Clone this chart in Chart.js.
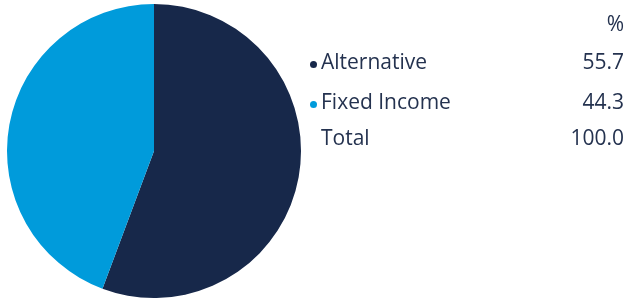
<!DOCTYPE html>
<html>
<head>
<meta charset="utf-8">
<script src="https://cdn.jsdelivr.net/npm/chart.js@4"></script>
<style>
  body { margin: 0; background: #fff; }
  #wrap { position: relative; width: 629px; height: 299px; overflow: hidden; }
  #pie { position: absolute; left: 7px; top: 4px; }
  #table { position: absolute; left: 0; top: 0; width: 629px; height: 299px;
           font-family: "Open Sans", sans-serif; font-size: 21px; color: #24324f; }
  .row { position: absolute; left: 307px; width: 317px; height: 26px; line-height: 26px; }
  .row .lbl { position: absolute; left: 14px; }
  .row .val { position: absolute; right: 0; }
  .row .dot { position: absolute; left: 3px; top: 13px; width: 7px; height: 7px; border-radius: 50%; }
</style>
</head>
<body>
<div id="wrap">
  <canvas id="pie" width="294" height="294"></canvas>
  <div id="table"></div>
</div>
<script>
var labels = ['Alternative', 'Fixed Income'];
var values = [55.7, 44.3];
var colors = ['#17284a', '#009bdb'];
var totalLabel = 'Total';
var totalValue = '100.0';
var unitLabel = '%';

var myChart = new Chart(document.getElementById('pie'), {
    type: 'pie',
    data: {
        labels: labels,
        datasets: [{
            data: values,
            backgroundColor: colors,
            borderWidth: 0
        }]
    },
    options: {
        responsive: false,
        animation: false,
        plugins: { legend: { display: false }, tooltip: { enabled: false } },
        layout: { padding: 0 }
    }
});

// table on the right
var table = document.getElementById('table');
var rowTops = [48, 88, 124];

function addRow(top, label, value, color) {
    var row = document.createElement('div');
    row.className = 'row';
    row.style.top = top + 'px';
    if (color) {
        var dot = document.createElement('span');
        dot.className = 'dot';
        dot.style.background = color;
        row.appendChild(dot);
    }
    var l = document.createElement('span');
    l.className = 'lbl';
    l.textContent = label;
    row.appendChild(l);
    var v = document.createElement('span');
    v.className = 'val';
    v.textContent = value;
    row.appendChild(v);
    table.appendChild(row);
}

addRow(10, '', unitLabel, null);
labels.forEach(function (name, i) {
    addRow(rowTops[i], name, values[i].toFixed(1), colors[i]);
});
addRow(rowTops[2], totalLabel, totalValue, null);
</script>
</body>
</html>
